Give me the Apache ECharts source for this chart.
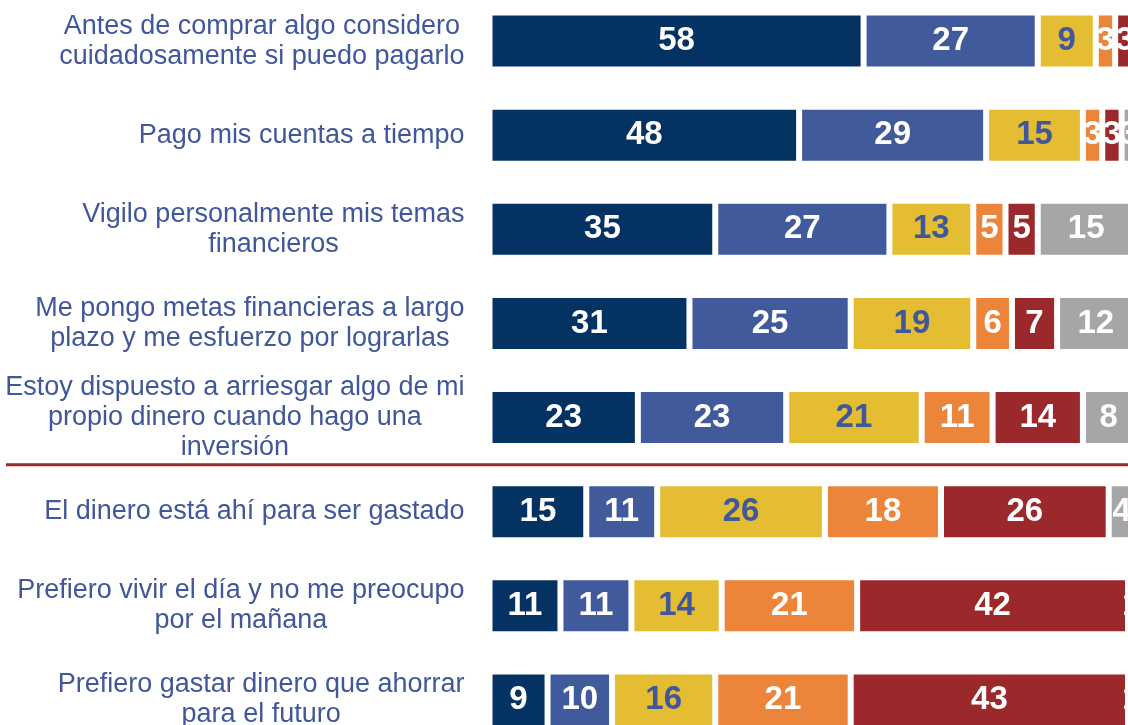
<!DOCTYPE html>
<html>
<head>
<meta charset="utf-8">
<script src="https://cdn.jsdelivr.net/npm/echarts@6/dist/echarts.min.js"></script>
<style>
  html, body { margin: 0; padding: 0; background: #fff; }
  #main { width: 1128px; height: 725px; }
</style>
</head>
<body>
<div id="main"></div>
<script>
// enunciados (de arriba a abajo)
const statements = [
    'Antes de comprar algo considero\ncuidadosamente si puedo pagarlo',
    'Pago mis cuentas a tiempo',
    'Vigilo personalmente mis temas\nfinancieros',
    'Me pongo metas financieras a largo\nplazo y me esfuerzo por lograrlas',
    'Estoy dispuesto a arriesgar algo de mi\npropio dinero cuando hago una\ninversión',
    'El dinero está ahí para ser gastado',
    'Prefiero vivir el día y no me preocupo\npor el mañana',
    'Prefiero gastar dinero que ahorrar\npara el futuro'
];

// porcentajes por respuesta
const totalAcuerdo = [58, 48, 35, 31, 23, 15, 11, 9];
const deAcuerdo = [27, 29, 27, 25, 23, 11, 11, 10];
const neutral = [9, 15, 13, 19, 21, 26, 14, 16];
const desacuerdo = [3, 3, 5, 6, 11, 18, 21, 21];
const totalDesacuerdo = [3, 3, 5, 7, 14, 26, 42, 43];
const noSabe = [0, 3, 15, 12, 8, 4, 1, 1];

const names = ['Totalmente de acuerdo', 'De acuerdo', 'Ni de acuerdo ni en desacuerdo',
    'En desacuerdo', 'Totalmente en desacuerdo', 'No sabe'];
const colors = ['#033263', '#415a9b', '#e4bd33', '#ec843a', '#9b282a', '#a6a6a6'];
const labelColors = ['#fff', '#fff', '#41579b', '#fff', '#fff', '#fff'];
const textBlue = '#41579b';
const font = 'Arial, "Liberation Sans", sans-serif';

const chart = echarts.init(document.getElementById('main'));

const series = [totalAcuerdo, deAcuerdo, neutral, desacuerdo, totalDesacuerdo, noSabe].map((d, i) => ({
    name: names[i],
    type: 'bar',
    stack: 'total',
    barWidth: 57,
    data: d,
    itemStyle: {
        color: colors[i],
        borderColor: '#fff',
        borderWidth: 3
    },
    label: {
        show: true,
        position: 'inside',
        color: labelColors[i],
        fontFamily: font,
        fontWeight: 'bold',
        fontSize: 33,
        formatter: p => (p.value ? p.value : '')
    },
    silent: true
}));

chart.setOption({
    animation: false,
    grid: {
        left: 489.5,
        width: 645,
        top: -6,
        height: 753,
        outerBoundsMode: 'none'
    },
    xAxis: {
        type: 'value',
        min: 0,
        max: 100,
        show: false
    },
    yAxis: {
        type: 'category',
        inverse: true,
        data: statements,
        axisLine: { show: false },
        axisTick: { show: false },
        axisLabel: {
            margin: 25,
            align: 'right',
            formatter: v => v.split('\n').map(s => '{c|' + s + '}').join('\n'),
            rich: {
                c: {
                    align: 'center',
                    color: textBlue,
                    fontFamily: font,
                    fontSize: 27,
                    lineHeight: 30
                }
            }
        }
    },
    series
});

// linea separadora entre los dos bloques de enunciados
const yA = chart.convertToPixel({ yAxisIndex: 0 }, 4);
const yB = chart.convertToPixel({ yAxisIndex: 0 }, 5);
chart.setOption({
    graphic: [{
        type: 'line',
        shape: { x1: 6, y1: (yA + yB) / 2, x2: 1128, y2: (yA + yB) / 2 },
        style: { stroke: '#9b282a', lineWidth: 3 }
    }]
});
</script>
</body>
</html>
